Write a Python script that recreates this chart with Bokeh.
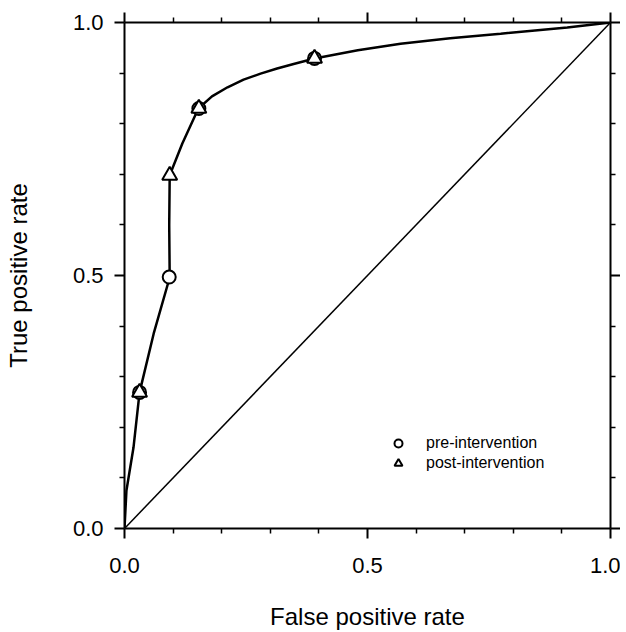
from bokeh.plotting import figure
from bokeh.models import (Range1d, LinearAxis, FixedTicker, PrintfTickFormatter,
                          Legend, LegendItem)
from bokeh.embed import file_html
from bokeh.resources import INLINE

# ROC curve
curve_fpr = [0.0, 0.004, 0.0185, 0.031, 0.060, 0.093, 0.092, 0.093, 0.119, 0.152,
             0.180, 0.212, 0.245, 0.280, 0.314, 0.348, 0.391, 0.480, 0.568, 0.670,
             0.774, 0.911, 1.0]
curve_tpr = [0.0, 0.075, 0.160, 0.269, 0.385, 0.496, 0.600, 0.698, 0.761, 0.830,
             0.854, 0.872, 0.887, 0.899, 0.909, 0.918, 0.929, 0.945, 0.958, 0.969,
             0.978, 0.990, 1.0]

# chance line
chance_fpr = [0.0, 1.0]
chance_tpr = [0.0, 1.0]

# operating points
pre_fpr = [0.031, 0.092, 0.153, 0.391]
pre_tpr = [0.269, 0.497, 0.830, 0.929]
post_fpr = [0.031, 0.093, 0.153, 0.391]
post_tpr = [0.269, 0.698, 0.830, 0.929]

major_ticks = [0.0, 0.5, 1.0]
minor_ticks = [0.1, 0.2, 0.3, 0.4, 0.6, 0.7, 0.8, 0.9]

FONT = "Liberation Sans"

p = figure(frame_width=486, frame_height=506,
           x_range=Range1d(0, 1), y_range=Range1d(0, 1),
           output_backend="svg", toolbar_location=None,
           min_border_left=124, min_border_right=10,
           min_border_top=22, min_border_bottom=96,
           x_axis_label="False positive rate", y_axis_label="True positive rate")
p.grid.visible = False
p.outline_line_color = None
p.background_fill_color = "white"
p.border_fill_color = "white"


def style_axis(ax, labels=True):
    ax.ticker = FixedTicker(ticks=major_ticks, minor_ticks=minor_ticks)
    ax.axis_line_width = 2
    ax.axis_line_color = "black"
    ax.major_tick_line_width = 2
    ax.major_tick_line_color = "black"
    ax.minor_tick_line_width = 1.5
    ax.minor_tick_line_color = "black"
    ax.major_tick_out = 10
    ax.major_tick_in = 0
    ax.minor_tick_out = 5
    ax.minor_tick_in = 0
    if labels:
        ax.formatter = PrintfTickFormatter(format="%.1f")
        ax.major_label_text_font = FONT
        ax.major_label_text_font_size = "22px"
        ax.major_label_text_color = "black"
        ax.axis_label_text_font = FONT
        ax.axis_label_text_font_size = "24px"
        ax.axis_label_text_font_style = "normal"
        ax.axis_label_text_color = "black"
    else:
        ax.major_label_overrides = {0: "", 0.5: "", 1: ""}
        ax.major_label_standoff = 0
        ax.major_label_text_font_size = "1px"


style_axis(p.xaxis[0])
style_axis(p.yaxis[0])
p.xaxis[0].major_label_standoff = 19
p.xaxis[0].axis_label_standoff = 27
p.yaxis[0].major_label_standoff = 11
p.yaxis[0].axis_label_standoff = 38

top_axis = LinearAxis()
right_axis = LinearAxis()
style_axis(top_axis, labels=False)
style_axis(right_axis, labels=False)
p.add_layout(top_axis, "above")
p.add_layout(right_axis, "right")

p.line(curve_fpr, curve_tpr, line_color="black", line_width=2.5)
p.line(chance_fpr, chance_tpr, line_color="black", line_width=1.5)

r_pre = p.scatter(pre_fpr, pre_tpr, marker="circle", size=13,
                  fill_color="white", line_color="black", line_width=2)
r_post = p.scatter(post_fpr, post_tpr, marker="triangle", size=15,
                   fill_color="white", line_color="black", line_width=2)

legend = Legend(items=[LegendItem(label="pre-intervention", renderers=[r_pre]),
                       LegendItem(label="post-intervention", renderers=[r_post])],
                location=(261, 55), border_line_color=None,
                background_fill_alpha=0, padding=0, margin=0, spacing=0,
                glyph_width=26, glyph_height=20, label_standoff=15,
                label_height=20,
                label_text_font=FONT, label_text_font_size="16px",
                label_text_color="black")
p.add_layout(legend)

open("out.html", "w").write(file_html(p, INLINE))
